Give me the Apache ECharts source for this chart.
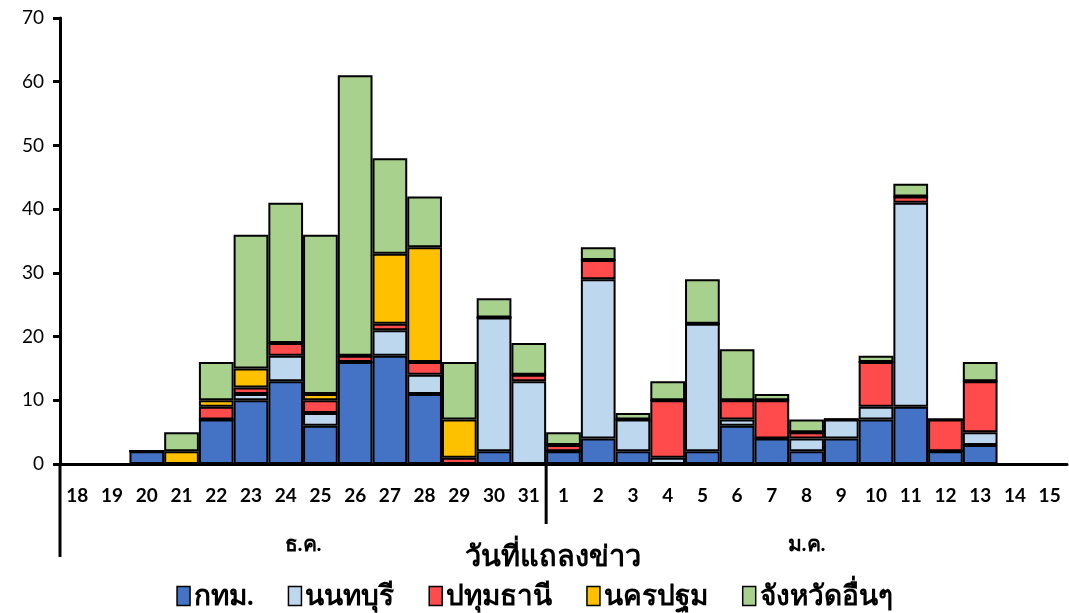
<!DOCTYPE html>
<html><head><meta charset="utf-8">
<script src="https://cdn.jsdelivr.net/npm/echarts@6/dist/echarts.min.js"></script>
<style>html,body{margin:0;padding:0;background:#fff}#c{width:1069px;height:613px}</style>
</head><body><div id="c"></div>
<script>
const categories = ['18','19','20','21','22','23','24','25','26','27','28','29','30','31','1','2','3','4','5','6','7','8','9','10','11','12','13','14','15'];
const monthLabels = ['ธ.ค.','ม.ค.'];
const decCount = 14;
const seriesNames = ['กทม.','นนทบุรี','ปทุมธานี','นครปฐม','จังหวัดอื่นๆ'];
const bangkok    = [0,0,2,0,7,10,13,6,16,17,11,0,2,0, 2,4,2,0,2,6,4,2,4,7,9,2,3,0,0];
const nonthaburi = [0,0,0,0,0,1,4,2,0,4,3,0,21,13, 0,25,5,1,20,1,0,2,3,2,32,0,2,0,0];
const pathum     = [0,0,0,0,2,1,2,2,1,1,2,1,0,1, 1,3,0,9,0,3,6,1,0,7,1,5,8,0,0];
const nakhon     = [0,0,0,2,1,3,0,1,0,11,18,6,0,0, 0,0,0,0,0,0,0,0,0,0,0,0,0,0,0];
const others     = [0,0,0,3,6,21,22,25,44,15,8,9,3,5, 2,2,1,3,7,8,1,2,0,1,2,0,3,0,0];
const yTicks = [0,10,20,30,40,50,60,70];
const xTitle = 'วันที่แถลงข่าว';

const colors = ['#4472C4','#BDD7EE','#FF4B4B','#FFC000','#A9D18E'];
const dataSets = [bangkok, nonthaburi, pathum, nakhon, others];
const FONT = 'Lato, "Noto Sans", "DejaVu Sans", sans-serif';

const chart = echarts.init(document.getElementById('c'));
const option = {
  animation: false,
  color: colors,
  grid: {left: 60, right: 2, top: 18, bottom: 149, containLabel: false},
  legend: {
    bottom: -2, left: 'center', itemWidth: 13, itemHeight: 19, itemGap: 34,
    icon: 'rect',
    textStyle: {fontFamily: FONT, fontWeight: 'bold', fontSize: 28, color: '#000', padding: [0,0,0,-1]},
    itemStyle: {borderColor: '#000', borderWidth: 1.5},
    data: seriesNames
  },
  xAxis: {
    type: 'category', data: categories,
    axisLine: {lineStyle: {color: '#000', width: 3}},
    axisTick: {show: false},
    axisLabel: {interval: 0, margin: 22, fontFamily: FONT, fontWeight: 'bold', fontSize: 19, color: '#000'},
    name: xTitle, nameLocation: 'middle', nameGap: 78,
    nameTextStyle: {fontFamily: FONT, fontWeight: 'bold', fontSize: 29, color: '#000', padding: [0, 22, 0, 0]}
  },
  yAxis: {
    type: 'value', min: yTicks[0], max: yTicks[yTicks.length-1], interval: 10,
    axisLine: {show: true, lineStyle: {color: '#000', width: 3}},
    axisTick: {show: true, length: 7, lineStyle: {color: '#000', width: 3}},
    splitLine: {show: false},
    axisLabel: {margin: 16, fontFamily: FONT, fontSize: 19, color: '#000'}
  },
  series: seriesNames.map((n, i) => ({
    name: n, type: 'bar', stack: 'total', data: dataSets[i],
    barCategoryGap: '0%', barWidth: '100%',
    itemStyle: {color: colors[i], borderColor: '#000', borderWidth: 2}
  }))
};
chart.setOption(option);

function decorate() {
  const p0 = chart.convertToPixel({xAxisIndex: 0, yAxisIndex: 0}, [0, 0]);
  const xl = chart.convertToPixel({xAxisIndex: 0}, 0);
  const cw = chart.convertToPixel({xAxisIndex: 0}, 1) - xl;
  const sepX = xl + (decCount - 0.5) * cw;
  const decMid = xl + (decCount - 1) / 2 * cw;
  const janMid = xl + (decCount + (categories.length - 1)) / 2 * cw;
  const y0 = p0[1];
  const axisX = chart.getModel().getComponent('grid').coordinateSystem.getRect().x;
  chart.setOption({graphic: [
    {type: 'line', shape: {x1: axisX, y1: y0, x2: axisX, y2: y0 + 93}, style: {stroke: '#000', lineWidth: 3}},
    {type: 'line', shape: {x1: sepX, y1: y0, x2: sepX, y2: y0 + 60}, style: {stroke: '#000', lineWidth: 3}},
    {type: 'text', x: decMid, y: y0 + 80, style: {text: monthLabels[0], font: 'bold 21px ' + FONT, fill: '#000', textAlign: 'center', textVerticalAlign: 'middle'}},
    {type: 'text', x: janMid, y: y0 + 80, style: {text: monthLabels[1], font: 'bold 21px ' + FONT, fill: '#000', textAlign: 'center', textVerticalAlign: 'middle'}}
  ]});
}
decorate();
</script></body></html>
